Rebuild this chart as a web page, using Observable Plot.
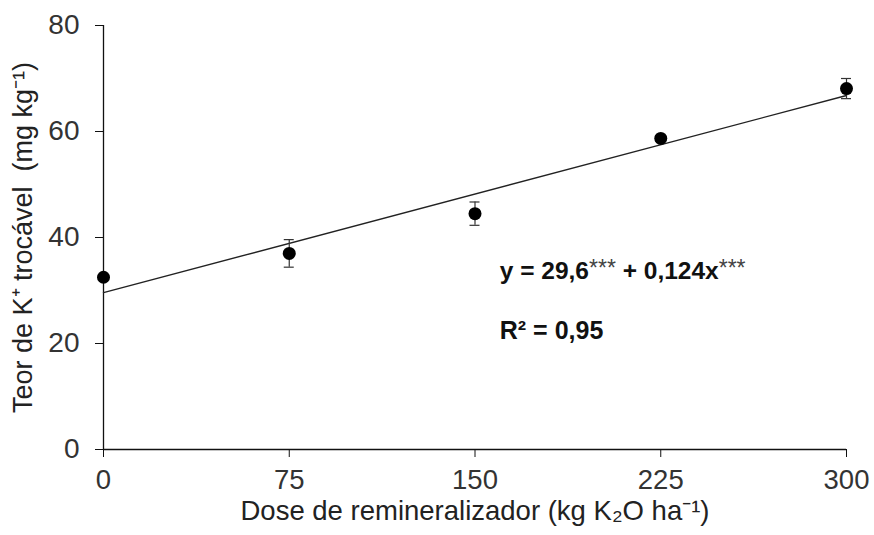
<!DOCTYPE html>
<html>
<head>
<meta charset="utf-8">
<script src="https://cdn.jsdelivr.net/npm/d3@7"></script>
<script src="https://cdn.jsdelivr.net/npm/@observablehq/plot@0.6"></script>
<style>
  html, body { margin: 0; padding: 0; background: #fff; }
  #chart svg { display: block; }
</style>
</head>
<body>
<div id="chart"></div>
<script>
// ---- data ----
const doses = [0, 75, 150, 225, 300];             // kg K2O ha-1
const teorK = [32.5, 37.0, 44.5, 58.7, 68.1];     // mg kg-1
const erro = [0.4, 2.6, 2.2, 0.5, 1.9];           // error bar half-length
const fitDose = [0, 300];
const fitTeor = [29.6, 66.8];                     // y = 29.6 + 0.124x at ends
const xTicks = [0, 75, 150, 225, 300];
const yTicks = [0, 20, 40, 60, 80];
const xLabel = "Dose de remineralizador (kg K₂O ha⁻¹)";
const yLabel = "Teor de K⁺ trocável  (mg kg⁻¹)";
const eqParts = ["y = 29,6", "***", " + 0,124x", "***"];
const eqText = eqParts.join("");
const r2Text = "R² = 0,95";
const eqPos = { x: 160, y: 33.6 };
const r2Pos = { x: 160, y: 22.3 };

const points = doses.map((d, i) => ({ x: d, y: teorK[i], e: erro[i] }));
const fit = fitDose.map((d, i) => ({ x: d, y: fitTeor[i] }));

const chart = Plot.plot({
  width: 874,
  height: 535,
  marginLeft: 103,
  marginRight: 28,
  marginTop: 25,
  marginBottom: 86,
  style: { fontFamily: "'Liberation Sans', Arial, sans-serif", color: "#222", background: "#fff" },
  x: { domain: [0, 300] },
  y: { domain: [0, 80] },
  marks: [
    Plot.axisY({ ticks: yTicks, tickSize: 8, tickPadding: 16, fontSize: 28, label: null, tickFormat: d => String(d), stroke: "#111", fill: "#333" }),
    Plot.axisX({ ticks: xTicks, tickSize: 8, tickPadding: 12, fontSize: 27.5, label: null, tickFormat: d => String(d), stroke: "#111", fill: "#333" }),
    Plot.ruleX([0], { stroke: "#111", strokeWidth: 1.3 }),
    Plot.ruleY([0], { stroke: "#111", strokeWidth: 1.3 }),
    Plot.line(fit, { x: "x", y: "y", stroke: "#222", strokeWidth: 1.4 }),
    Plot.ruleX(points, { x: "x", y1: d => d.y - d.e, y2: d => d.y + d.e, stroke: "#333", strokeWidth: 1.2 }),
    Plot.ruleY(points, { y: d => d.y - d.e, x1: "x", x2: "x", insetLeft: -5, insetRight: -5, stroke: "#333", strokeWidth: 1.2 }),
    Plot.ruleY(points, { y: d => d.y + d.e, x1: "x", x2: "x", insetLeft: -5, insetRight: -5, stroke: "#333", strokeWidth: 1.2 }),
    Plot.dot(points, { x: "x", y: "y", r: 6.5, fill: "#000", stroke: "none" }),
    Plot.text([eqText], { x: eqPos.x, y: eqPos.y, textAnchor: "start", fontSize: 24.5, fontWeight: "bold", fill: "#111" }),
    Plot.text([r2Text], { x: r2Pos.x, y: r2Pos.y, textAnchor: "start", fontSize: 25, fontWeight: "bold", fill: "#111" }),
    Plot.text([xLabel], { frameAnchor: "bottom", textAnchor: "middle", dy: 70, fontSize: 27.5, fill: "#222" }),
    Plot.text([yLabel], { frameAnchor: "left", textAnchor: "middle", rotate: -90, dx: -80, dy: 0, fontSize: 27, fill: "#222" })
  ]
});

// superscript the significance asterisks
d3.select(chart).selectAll("text").each(function () {
  if (this.textContent !== eqText) return;
  const t = d3.select(this);
  t.text(null);
  eqParts.forEach((p, i) => {
    const s = t.append("tspan").text(p);
    if (p === "***") {
      s.attr("dy", -3).attr("font-size", 23).attr("font-weight", "normal").attr("fill", "#444");
    } else if (i > 0) {
      s.attr("dy", 3);
    }
  });
});

document.getElementById("chart").appendChild(chart);
</script>
</body>
</html>
